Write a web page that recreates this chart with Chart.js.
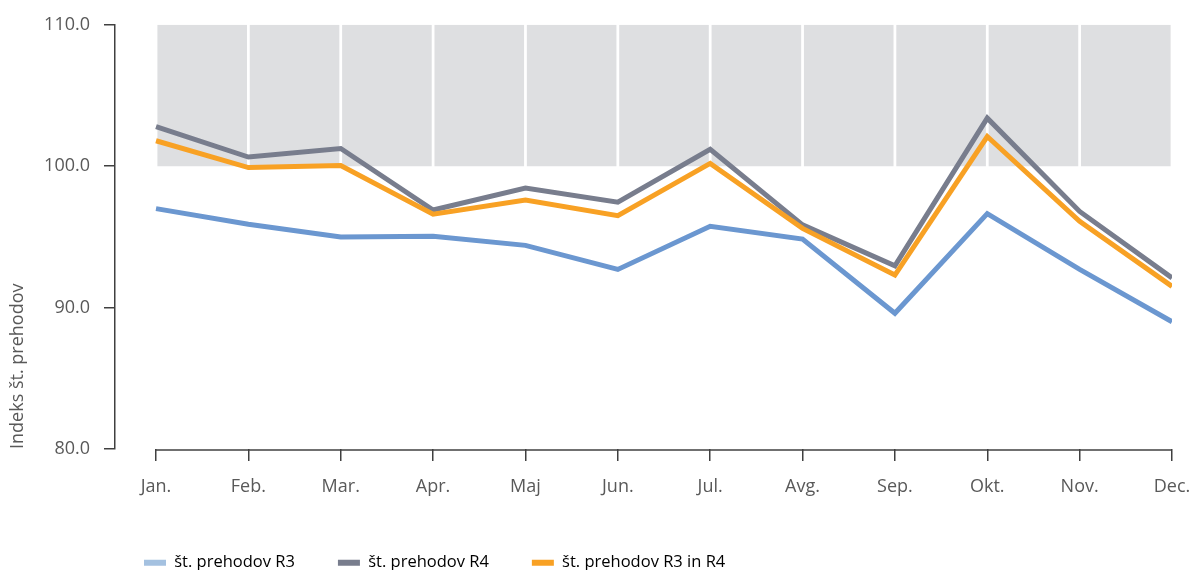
<!DOCTYPE html>
<html>
<head>
<meta charset="utf-8">
<script src="https://cdn.jsdelivr.net/npm/chart.js@4.4.1/dist/chart.umd.min.js"></script>
<style>
  html, body { margin: 0; padding: 0; background: #fff; overflow: hidden; }
  canvas { display: block; }
</style>
</head>
<body>
<canvas id="indeks" width="1190" height="581"></canvas>
<script>
// months on the x axis
var months = ['Jan.', 'Feb.', 'Mar.', 'Apr.', 'Maj', 'Jun.', 'Jul.', 'Avg.', 'Sep.', 'Okt.', 'Nov.', 'Dec.'];

// index values
var prehodiR3 = [97.0, 95.9, 95.0, 95.05, 94.4, 92.7, 95.75, 94.85, 89.6, 96.65, 92.7, 89.0];
var prehodiR4 = [102.8, 100.65, 101.25, 96.9, 98.45, 97.45, 101.2, 95.85, 92.95, 103.4, 96.8, 92.1];
var prehodiR3R4 = [101.8, 99.9, 100.05, 96.6, 97.6, 96.5, 100.2, 95.6, 92.3, 102.1, 96.1, 91.5];

// grey band above 100, one block between each pair of months
var band = [100, 110];

// y axis ticks
var yTicks = [80, 90, 100, 110];

var seriesNames = ['št. prehodov R3', 'št. prehodov R4', 'št. prehodov R3 in R4'];
var lineColors = ['#6b97d0', '#787d8d', '#f8a124'];
var legendColors = ['#a4c1e0', '#787d8d', '#f8a124'];

Chart.defaults.font.family = "'Open Sans', sans-serif";
Chart.defaults.color = '#595959';

function points(values) {
  return values.map(function(v, i) { return { x: i, y: v }; });
}

var bandData = months.slice(0, -1).map(function(m, i) {
  return { x: i + 0.5, y: band };
});

// x axis line only runs from Jan. to Dec.
var xAxisLine = {
  id: 'xAxisLine',
  afterDraw: function(chart) {
    var x = chart.scales.x;
    var ctx = chart.ctx;
    ctx.save();
    ctx.strokeStyle = '#404040';
    ctx.lineWidth = 1.5;
    ctx.beginPath();
    ctx.moveTo(x.getPixelForValue(0), x.top + 1);
    ctx.lineTo(x.getPixelForValue(months.length - 1), x.top + 1);
    ctx.stroke();
    ctx.restore();
  }
};

// legend starts under the plot, not at the canvas edge
var legendShift = {
  id: 'legendShift',
  beforeDraw: function(chart) {
    chart.legend.left = 101;
  }
};

var ctx = document.getElementById('indeks').getContext('2d');

var indeks = new Chart(ctx, {
  type: 'line',
  data: {
    datasets: [
      {
        label: seriesNames[0],
        data: points(prehodiR3),
        borderColor: lineColors[0],
        borderWidth: 5,
        pointRadius: 0,
        order: 3
      },
      {
        label: seriesNames[1],
        data: points(prehodiR4),
        borderColor: lineColors[1],
        borderWidth: 5,
        pointRadius: 0,
        order: 2
      },
      {
        label: seriesNames[2],
        data: points(prehodiR3R4),
        borderColor: lineColors[2],
        borderWidth: 5,
        pointRadius: 0,
        order: 1
      },
      {
        type: 'bar',
        label: 'band',
        data: bandData,
        backgroundColor: '#dedfe1',
        borderWidth: 0,
        categoryPercentage: 1,
        barPercentage: 0.97,
        order: 10
      }
    ]
  },
  options: {
    responsive: false,
    devicePixelRatio: 1,
    animation: false,
    layout: {
      padding: { top: 23, right: 18, left: 0, bottom: 0 }
    },
    scales: {
      x: {
        type: 'linear',
        offset: false,
        min: -0.444,
        max: months.length - 1,
        afterBuildTicks: function(scale) {
          scale.ticks = months.map(function(m, i) { return { value: i }; });
        },
        afterFit: function(scale) {
          scale.height = 62.5;
          scale.paddingLeft = 0;
          scale.paddingRight = 0;
        },
        border: { display: false },
        grid: {
          offset: false,
          drawOnChartArea: false,
          drawTicks: true,
          tickLength: 12,
          color: '#404040',
          lineWidth: 1.5
        },
        ticks: {
          padding: 15,
          maxRotation: 0,
          autoSkip: false,
          font: { size: 18 },
          color: '#595959',
          callback: function(value) { return months[value]; }
        }
      },
      y: {
        min: yTicks[0],
        max: yTicks[yTicks.length - 1],
        afterFit: function(scale) {
          scale.width = 115;
        },
        border: { color: '#404040', width: 1.5 },
        grid: {
          drawOnChartArea: false,
          tickLength: 11,
          color: '#404040',
          lineWidth: 1.5
        },
        ticks: {
          stepSize: 10,
          padding: 14,
          font: { size: 18 },
          color: '#595959',
          callback: function(value) { return value.toFixed(1); }
        },
        title: {
          display: true,
          text: 'Indeks št. prehodov',
          align: 'start',
          color: '#595959',
          font: { size: 18 },
          padding: { top: 7, bottom: 0 }
        }
      }
    },
    plugins: {
      tooltip: { enabled: false },
      legend: {
        position: 'bottom',
        align: 'start',
        labels: {
          boxWidth: 22,
          boxHeight: 6,
          useBorderRadius: true,
          borderRadius: 3,
          padding: 43,
          color: '#595959',
          font: { size: 16.5 },
          generateLabels: function() {
            return seriesNames.map(function(name, i) {
              return {
                text: name,
                fillStyle: legendColors[i],
                strokeStyle: legendColors[i],
                lineWidth: 0,
                hidden: false,
                datasetIndex: i
              };
            });
          }
        }
      }
    }
  },
  plugins: [xAxisLine, legendShift]
});
</script>
</body>
</html>
